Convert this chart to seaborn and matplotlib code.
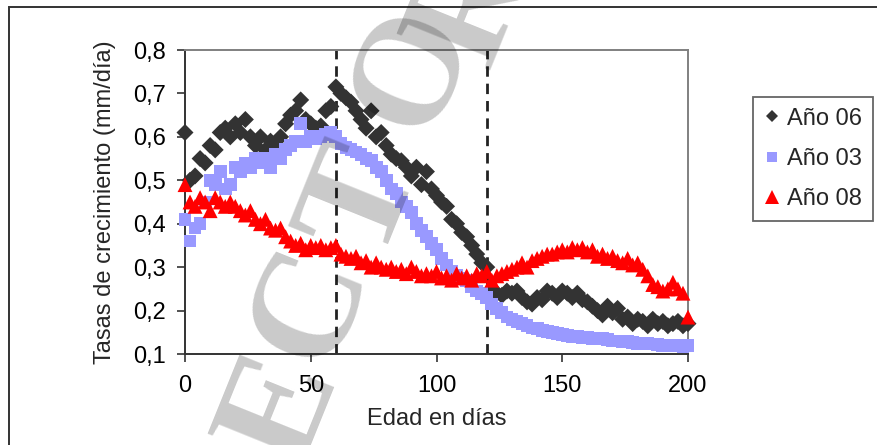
import matplotlib
matplotlib.use("Agg")
import matplotlib.pyplot as plt
import pandas as pd
import seaborn as sns
from matplotlib.lines import Line2D
from matplotlib.patches import Rectangle
from matplotlib.ticker import FuncFormatter

# Edad (días), cada 2 días
edad = list(range(0, 201, 2))

anio_06 = [
    0.61, 0.50, 0.51, 0.55, 0.54, 0.58, 0.57, 0.61, 0.62, 0.60,
    0.63, 0.61, 0.64, 0.60, 0.58, 0.60, 0.57, 0.59, 0.58, 0.60,
    0.63, 0.65, 0.66, 0.685, 0.64, 0.63, 0.62, 0.625, 0.66, 0.67,
    0.715, 0.70, 0.69, 0.68, 0.66, 0.64, 0.62, 0.66, 0.60, 0.61,
    0.58, 0.56, 0.55, 0.545, 0.53, 0.51, 0.53, 0.49, 0.52, 0.48,
    0.465, 0.45, 0.44, 0.41, 0.40, 0.38, 0.37, 0.35, 0.33, 0.31,
    0.30, 0.25, 0.24, 0.235, 0.245, 0.24, 0.245, 0.23, 0.22, 0.215,
    0.23, 0.225, 0.245, 0.24, 0.23, 0.245, 0.24, 0.23, 0.24, 0.225,
    0.22, 0.21, 0.20, 0.19, 0.21, 0.195, 0.205, 0.18, 0.185, 0.17,
    0.18, 0.175, 0.165, 0.18, 0.17, 0.175, 0.165, 0.17, 0.175, 0.165,
    0.17,
]

anio_03 = [
    0.41, 0.36, 0.39, 0.40, 0.45, 0.50, 0.49, 0.52, 0.48, 0.49,
    0.53, 0.52, 0.54, 0.53, 0.55, 0.54, 0.55, 0.53, 0.56, 0.55,
    0.57, 0.58, 0.59, 0.63, 0.59, 0.60, 0.595, 0.60, 0.605, 0.61,
    0.60, 0.585, 0.575, 0.57, 0.565, 0.56, 0.55, 0.545, 0.53, 0.52,
    0.50, 0.48, 0.47, 0.45, 0.44, 0.425, 0.40, 0.385, 0.37, 0.355,
    0.34, 0.32, 0.305, 0.29, 0.28, 0.275, 0.27, 0.255, 0.245, 0.24,
    0.23, 0.215, 0.205, 0.195, 0.185, 0.18, 0.175, 0.17, 0.165, 0.16,
    0.158, 0.155, 0.152, 0.15, 0.148, 0.145, 0.143, 0.14, 0.14, 0.138,
    0.138, 0.136, 0.135, 0.135, 0.133, 0.13, 0.13, 0.128, 0.128, 0.127,
    0.125, 0.125, 0.124, 0.123, 0.122, 0.12, 0.12, 0.12, 0.119, 0.118,
    0.12,
]

anio_08 = [
    0.49, 0.45, 0.44, 0.46, 0.45, 0.43, 0.46, 0.45, 0.44, 0.45,
    0.44, 0.43, 0.42, 0.43, 0.41, 0.40, 0.41, 0.39, 0.385, 0.39,
    0.37, 0.36, 0.35, 0.355, 0.34, 0.35, 0.345, 0.35, 0.34, 0.345,
    0.35, 0.33, 0.325, 0.32, 0.325, 0.31, 0.315, 0.30, 0.31, 0.30,
    0.295, 0.30, 0.29, 0.295, 0.285, 0.30, 0.29, 0.28, 0.285, 0.28,
    0.29, 0.275, 0.28, 0.27, 0.285, 0.275, 0.28, 0.27, 0.285, 0.28,
    0.29, 0.27, 0.28, 0.285, 0.29, 0.295, 0.30, 0.31, 0.30, 0.315,
    0.32, 0.325, 0.33, 0.33, 0.335, 0.34, 0.335, 0.345, 0.34, 0.345,
    0.335, 0.34, 0.325, 0.33, 0.32, 0.325, 0.315, 0.31, 0.32, 0.305,
    0.31, 0.295, 0.28, 0.26, 0.255, 0.245, 0.25, 0.265, 0.25, 0.24,
    0.185,
]

series = ["Año 06", "Año 03", "Año 08"]
valores = {"Año 06": anio_06, "Año 03": anio_03, "Año 08": anio_08}
colores = {"Año 06": "#333333", "Año 03": "#9999FF", "Año 08": "#FF0000"}
marcadores = {"Año 06": "D", "Año 03": "s", "Año 08": "^"}
tamanos = {"Año 06": 75, "Año 03": 85, "Año 08": 115}
tamanos_leyenda = {"Año 06": 6.5, "Año 03": 7.5, "Año 08": 10}

x_ticks = [0, 50, 100, 150, 200]
y_ticks = [0.1, 0.2, 0.3, 0.4, 0.5, 0.6, 0.7, 0.8]
cortes = [60, 120]

df = pd.concat(
    [pd.DataFrame({"edad": edad, "tasa": valores[s], "serie": s}) for s in series],
    ignore_index=True,
)

sns.set_theme(style="white")
plt.rcParams["font.family"] = ["Liberation Sans", "DejaVu Sans"]
plt.rcParams["lines.scale_dashes"] = False

W, H = 877, 445
fig = plt.figure(figsize=(W / 100, H / 100), dpi=100)
ax = fig.add_axes([185 / W, 1 - 354 / H, 503 / W, 304 / H])

for i, s in enumerate(series):
    sns.scatterplot(
        data=df[df["serie"] == s], x="edad", y="tasa",
        color=colores[s], marker=marcadores[s], s=tamanos[s],
        linewidth=0, edgecolor="none", ax=ax, legend=False,
        clip_on=False, zorder=3 + i,
    )

for c in cortes:
    ax.axvline(c, color="#222222", lw=2.0, ls=(0, (7.5, 5)), zorder=2)

ax.set_xlim(0, 200)
ax.set_ylim(0.1, 0.8)
ax.set_xticks(x_ticks)
ax.set_yticks(y_ticks)
ax.yaxis.set_major_formatter(FuncFormatter(lambda v, p: f"{v:.1f}".replace(".", ",")))
ax.tick_params(axis="both", which="major", direction="out", length=6,
               width=1.2, color="#333333", labelsize=17, labelcolor="black")
ax.tick_params(axis="y", pad=8)
ax.tick_params(axis="x", pad=9)
ax.xaxis.set_ticks_position("bottom")
ax.yaxis.set_ticks_position("left")

for lado in ["left", "bottom"]:
    ax.spines[lado].set_color("#333333")
    ax.spines[lado].set_linewidth(1.4)
for lado in ["top", "right"]:
    ax.spines[lado].set_color("#808080")
    ax.spines[lado].set_linewidth(1.4)

ax.set_xlabel("Edad en días", fontsize=17, labelpad=8)
ax.set_ylabel("Tasas de crecimiento (mm/día)", fontsize=17, labelpad=12)

manejadores = [
    Line2D([], [], ls="none", marker=marcadores[s], color=colores[s],
           markersize=tamanos_leyenda[s], markeredgewidth=0)
    for s in series
]
ley = fig.legend(
    manejadores, series, loc="upper left",
    bbox_to_anchor=(753 / W, 1 - 97 / H), bbox_transform=fig.transFigure,
    fontsize=17, frameon=True, fancybox=False, edgecolor="#404040",
    borderaxespad=0, borderpad=0.45, handlelength=0.7, handletextpad=0.3,
    labelspacing=0.78,
)
ley.get_frame().set_linewidth(1.3)

# Marco exterior
fig.add_artist(Rectangle((9 / W, -0.5), 2, 1 - 7 / H + 0.5,
                         transform=fig.transFigure, fill=False,
                         edgecolor="#333333", lw=1.4))

# Marca de agua
letras = [("E", 284, 410), ("C", 312, 306), ("T", 364, 202),
          ("O", 415, 70), ("R", 474, 6)]
for letra, px, py in letras:
    fig.text(px / W, 1 - py / H, letra, rotation=68, rotation_mode="anchor",
             ha="center", va="center", fontsize=110, fontweight="bold",
             family=["Liberation Serif", "DejaVu Serif"],
             color="black", alpha=0.21, zorder=10)

fig.savefig("out.png", dpi=100)
